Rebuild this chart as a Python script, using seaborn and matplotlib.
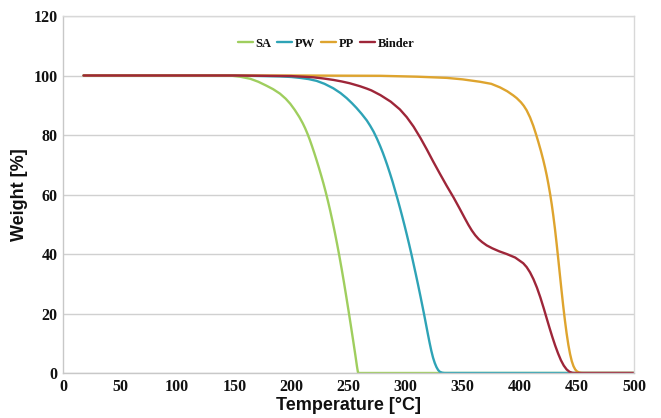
import numpy as np
import pandas as pd
import matplotlib
matplotlib.use("Agg")
import matplotlib.pyplot as plt
import seaborn as sns

series_names = ["SA", "PW", "PP", "Binder"]

sa_temp = [18, 100, 146, 155, 164, 171, 178, 184, 190, 195, 199, 203, 207, 210, 212, 214, 216, 218, 220, 222, 224, 226, 228, 230, 232, 234, 236, 238, 240, 242, 244, 246, 248, 250, 252, 254, 256, 257.5, 258.3, 259, 300, 400, 500]
sa_weight = [100, 100, 100, 99.6, 98.9, 97.9, 96.6, 95.4, 93.9, 92.2, 90.5, 88.4, 86, 83.9, 82.3, 80.5, 78.5, 76.3, 74, 71.6, 69.1, 66.5, 63.8, 60.9, 57.8, 54.5, 51, 47.3, 43.4, 39.3, 35, 30.5, 25.8, 21, 16.1, 11.1, 6, 2, 0.2, 0, 0, 0, 0]

pw_temp = [18, 100, 150, 190, 200, 207.5, 215, 222, 229, 236.7, 243, 248.4, 253, 257, 261.5, 266, 269, 272, 275, 277.6, 280, 282, 284, 286.3, 288.6, 291, 293, 295, 297, 299, 301, 303, 305, 307, 309, 311, 313, 315, 316.5, 318, 319.5, 321, 322.5, 324, 325.5, 327, 328.5, 330, 332, 334, 400, 500]
pw_weight = [100, 100, 100, 99.7, 99.5, 99.2, 98.8, 98.2, 97.2, 95.7, 94.1, 92.4, 90.7, 89.1, 87.1, 84.9, 83.1, 81.1, 78.7, 76.4, 74.1, 72.0, 69.8, 67.1, 64.3, 61.1, 58.4, 55.6, 52.7, 49.7, 46.6, 43.4, 40.1, 36.6, 33.1, 29.5, 25.8, 22, 19.1, 16.1, 13.1, 10.2, 7.5, 5.2, 3.4, 2.0, 1.0, 0.4, 0.1, 0, 0, 0]

pp_temp = [18, 100, 200, 278, 310, 336, 350, 365, 375, 382.7, 389, 394.3, 397.3, 401, 403.5, 406, 409, 411.8, 414, 416.2, 418.5, 420.6, 422.2, 423.6, 425, 426.5, 428, 429.3, 430.8, 432.3, 433.6, 435, 436.5, 438, 439.5, 441, 442.5, 444, 445.5, 447, 448.5, 450, 452, 454, 456, 500]
pp_weight = [100, 100, 100, 99.9, 99.6, 99.2, 98.7, 97.9, 97.2, 96, 94.7, 93.3, 92.4, 91.0, 89.8, 88.3, 85.9, 83.1, 80.5, 77.7, 74.6, 71.5, 68.9, 66.4, 63.6, 60.3, 56.6, 53.0, 48.4, 43.3, 38.6, 33.4, 27.9, 22.6, 17.7, 13.3, 9.5, 6.4, 4.0, 2.3, 1.2, 0.55, 0.15, 0.02, 0, 0]

binder_temp = [18, 100, 150, 200, 219, 228, 237, 244, 251, 260, 266, 270, 278, 287, 295, 301, 307, 313, 318.5, 324, 330, 336, 342, 347, 352, 355, 358, 361, 364, 367, 371, 376, 382, 388.5, 396, 403, 406, 409, 412, 415, 418, 421, 423.6, 426, 428.5, 431, 433.5, 436, 438.5, 441, 443.5, 446, 448, 500]
binder_weight = [100, 100, 100, 99.8, 99.4, 99, 98.5, 98, 97.4, 96.4, 95.6, 95, 93.4, 91.2, 88.6, 86, 82.8, 79, 75.2, 71.2, 67, 62.9, 59, 55.5, 51.9, 49.8, 47.9, 46.3, 45, 44, 42.9, 41.9, 40.9, 40, 38.8, 36.9, 35.6, 33.8, 31.5, 28.7, 25.4, 21.7, 18.3, 15.2, 12.1, 9.2, 6.6, 4.3, 2.5, 1.2, 0.4, 0.05, 0, 0]

colors = {"SA": "#9fce5e", "PW": "#2ea3b6", "PP": "#dea42e", "Binder": "#9e2639"}

frames = []
for name, t, w in [("SA", sa_temp, sa_weight), ("PW", pw_temp, pw_weight),
                   ("PP", pp_temp, pp_weight), ("Binder", binder_temp, binder_weight)]:
    frames.append(pd.DataFrame({"Temperature": t, "Weight": w, "Series": name}))
df = pd.concat(frames, ignore_index=True)

sns.set_style("white")
fig = plt.figure(figsize=(6.61, 4.18), dpi=100)
ax = fig.add_axes([63 / 661, 1 - 373 / 418, (634 - 63) / 661, (373 - 16) / 418])

sns.lineplot(data=df, x="Temperature", y="Weight", hue="Series", hue_order=series_names,
             palette=colors, estimator=None, sort=False, linewidth=1.7, ax=ax)
for ln in ax.get_lines():
    ln.set_solid_joinstyle("round")

ax.set_xlim(0, 500)
ax.set_ylim(0, 120)
ax.set_xticks(np.arange(0, 501, 50))
ax.set_yticks(np.arange(0, 121, 20))
ax.yaxis.grid(True, color="#d0d0d0", linewidth=1.0)
ax.xaxis.grid(False)
ax.set_axisbelow(True)
for s in ax.spines.values():
    s.set_color("#d8d8d8")
    s.set_linewidth(1.0)
ax.spines["left"].set_color("#c8c8c8")
ax.spines["bottom"].set_color("#c8c8c8")

for lbl in ax.get_xticklabels() + ax.get_yticklabels():
    lbl.set_fontfamily("Liberation Serif")
    lbl.set_fontweight("bold")
    lbl.set_fontsize(11.5)
    lbl.set_color("#111111")
ax.tick_params(axis="both", length=0, pad=4)

ax.set_xlabel("Temperature [°C]", fontfamily="Liberation Sans", fontweight="bold", fontsize=13,
              labelpad=2, color="#111111")
ax.set_ylabel("Weight [%]", fontfamily="Liberation Sans", fontweight="bold", fontsize=13,
              labelpad=4, color="#111111")

handles, labels = ax.get_legend_handles_labels()
leg = ax.legend(handles, labels, loc="center", bbox_to_anchor=((326 - 63) / 571, 0.922),
                ncol=4, frameon=False, handlelength=1.2, handletextpad=0.2, columnspacing=0.5,
                prop={"family": "Liberation Serif", "weight": "bold", "size": 9})
for h in leg.get_lines():
    h.set_linewidth(1.7)
for t in leg.get_texts():
    t.set_color("#111111")

fig.savefig("out.png", dpi=100)
